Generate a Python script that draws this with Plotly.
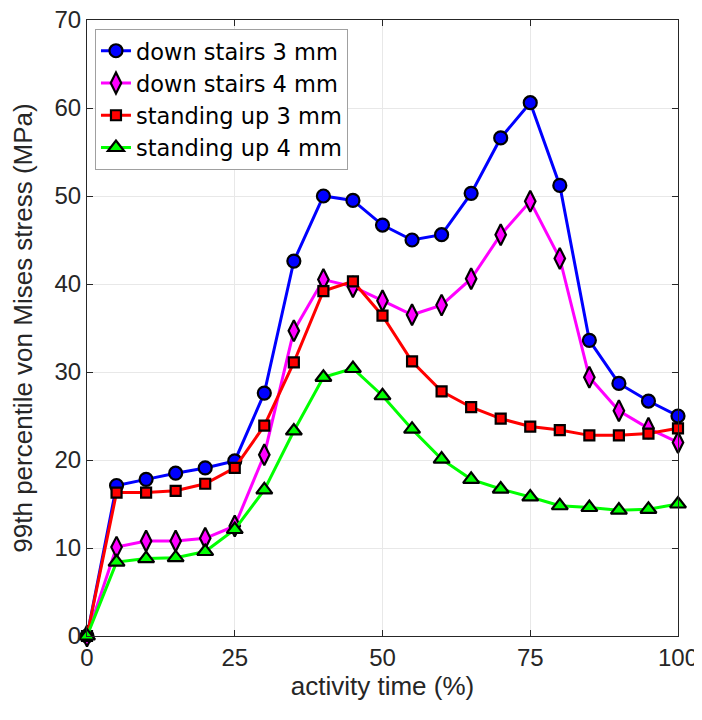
import plotly.graph_objects as go

x = [0, 5, 10, 15, 20, 25, 30, 35, 40, 45, 50, 55, 60, 65, 70, 75, 80, 85, 90, 95, 100]

down_3mm = [0, 17.1, 17.8, 18.5, 19.1, 19.9, 27.6, 42.6, 50.0, 49.5, 46.7, 45.0, 45.6, 50.3, 56.6, 60.6, 51.2, 33.6, 28.7, 26.7, 25.0]
down_4mm = [0, 10.1, 10.8, 10.8, 11.1, 12.5, 20.6, 34.7, 40.5, 39.7, 38.1, 36.5, 37.6, 40.6, 45.6, 49.4, 42.9, 29.4, 25.6, 23.6, 22.0]
stand_3mm = [0, 16.3, 16.3, 16.5, 17.3, 19.1, 23.9, 31.1, 39.2, 40.3, 36.4, 31.2, 27.8, 26.0, 24.7, 23.8, 23.4, 22.8, 22.8, 23.0, 23.6]
stand_4mm = [0, 8.4, 8.8, 8.9, 9.6, 12.1, 16.6, 23.3, 29.4, 30.4, 27.3, 23.5, 20.1, 17.8, 16.7, 15.8, 14.8, 14.6, 14.3, 14.4, 15.0]

names = ["down stairs 3 mm", "down stairs 4 mm", "standing up 3 mm", "standing up 4 mm"]
colors = ["#0000ff", "#ff00ff", "#ff0000", "#00ff00"]
symbols = ["circle", "diamond-tall", "square", "triangle-up"]
sizes = [13, 15, 10, 14]
series = [down_3mm, down_4mm, stand_3mm, stand_4mm]

x_ticks = [0, 25, 50, 75, 100]
y_ticks = [0, 10, 20, 30, 40, 50, 60, 70]

FONT = "Liberation Sans, Arial, Helvetica"
TXT = "#262626"

fig = go.Figure()
for name, ys, c, s, sz in zip(names, series, colors, symbols, sizes):
    fig.add_trace(go.Scatter(
        x=x, y=ys, name=name, mode="lines+markers",
        line=dict(color=c, width=3),
        marker=dict(symbol=s, size=sz, color=c, line=dict(color="black", width=2.2)),
        cliponaxis=False,
    ))

axis_common = dict(
    showline=True, linecolor=TXT, linewidth=1.2, mirror="ticks",
    ticks="inside", ticklen=6, tickcolor=TXT,
    showgrid=True, gridcolor="#e8e8e8", gridwidth=1,
    zeroline=False, automargin=False, ticklabeloverflow="allow",
    tickfont=dict(family=FONT, size=24, color=TXT),
)

fig.update_xaxes(range=[0, 100], tickvals=x_ticks,
                 title=dict(text="activity time (%)", font=dict(family=FONT, size=26, color=TXT), standoff=5),
                 **axis_common)
fig.update_yaxes(range=[0, 70], tickvals=y_ticks,
                 title=dict(text="99th percentile von Mises stress (MPa)", font=dict(family=FONT, size=26, color=TXT), standoff=17),
                 **axis_common)

# page has an 8px body margin; size the figure so it fits the 702x720 window
fig.update_layout(
    width=694, height=712,
    margin=dict(l=79, r=24, t=12, b=84),
    paper_bgcolor="white", plot_bgcolor="white",
    showlegend=True,
    legend=dict(
        x=0.0135, y=0.986, xanchor="left", yanchor="top",
        bgcolor="white", bordercolor="#a0a0a0", borderwidth=1,
        font=dict(family="DejaVu Sans", size=22.5, color="black"),
        tracegroupgap=0, itemwidth=30,
    ),
)

fig.write_html("out.html")
